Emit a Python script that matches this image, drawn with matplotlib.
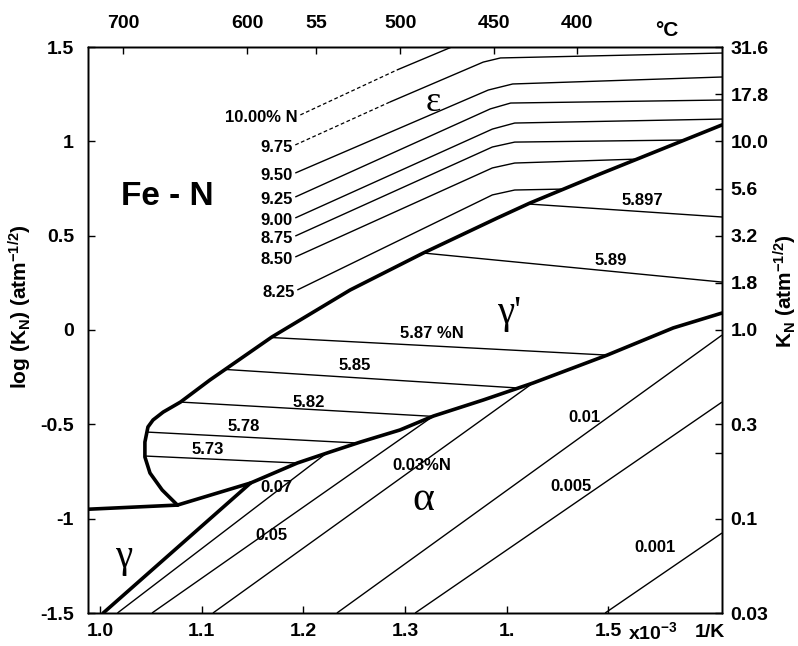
import matplotlib
matplotlib.use('Agg')
import matplotlib.pyplot as plt

plt.rcParams['font.family'] = ['Liberation Sans', 'DejaVu Sans']
plt.rcParams['font.weight'] = 'bold'
plt.rcParams['mathtext.fontset'] = 'custom'
plt.rcParams['mathtext.rm'] = 'Liberation Sans:bold'
plt.rcParams['mathtext.it'] = 'Liberation Sans:bold'
plt.rcParams['mathtext.bf'] = 'Liberation Sans:bold'
plt.rcParams['mathtext.default'] = 'rm'

# ---------------- data (x: 1/T in 1e-3 1/K, y: log KN) ----------------
# gamma' phase: upper boundary incl. the C-shaped gamma/gamma' part
gp_upper_x = [1.076, 1.061, 1.049, 1.044, 1.044, 1.047, 1.052, 1.062, 1.079, 1.108,
              1.169, 1.246, 1.318, 1.391, 1.423, 1.492, 1.612]
gp_upper_y = [-0.928, -0.848, -0.758, -0.673, -0.594, -0.514, -0.477, -0.435, -0.382, -0.265,
              -0.037, 0.212, 0.408, 0.594, 0.673, 0.827, 1.087]
# gamma' lower boundary (gamma/gamma' then alpha/gamma')
gp_lower_x = [1.076, 1.148, 1.194, 1.226, 1.256, 1.295, 1.328, 1.377, 1.426, 1.499, 1.564, 1.612]
gp_lower_y = [-0.928, -0.811, -0.705, -0.647, -0.594, -0.530, -0.456, -0.371, -0.281, -0.133, 0.011, 0.090]
# gamma boundary (left, nearly horizontal)
gamma_x = [0.988, 1.076]
gamma_y = [-0.950, -0.928]
# gamma / alpha boundary
ga_x = [1.003, 1.148]
ga_y = [-1.500, -0.811]

# alpha iso-concentration lines
alpha_labels = ['0.07', '0.05', '0.03%N', '0.01', '0.005', '0.001']
alpha_x0 = [1.017, 1.051, 1.111, 1.233, 1.310, 1.497]
alpha_y0 = [-1.5, -1.5, -1.5, -1.5, -1.5, -1.5]
alpha_x1 = [1.223, 1.328, 1.426, 1.612, 1.612, 1.612]
alpha_y1 = [-0.652, -0.456, -0.281, -0.027, -0.382, -1.076]
alpha_lx = [1.173, 1.169, 1.317, 1.477, 1.463, 1.546]
alpha_ly = [-0.837, -1.087, -0.716, -0.466, -0.832, -1.155]

# gamma' iso-concentration lines
tie_labels = ['5.73', '5.78', '5.82', '5.85', '5.87 %N', '5.89', '5.897']
tie_x0 = [1.044, 1.046, 1.079, 1.123, 1.169, 1.318, 1.421]
tie_y0 = [-0.668, -0.541, -0.382, -0.209, -0.040, 0.408, 0.668]
tie_x1 = [1.194, 1.253, 1.328, 1.410, 1.499, 1.612, 1.612]
tie_y1 = [-0.705, -0.599, -0.458, -0.307, -0.133, 0.254, 0.599]
tie_lx = [1.106, 1.141, 1.205, 1.251, 1.326, 1.502, 1.534]
tie_ly = [-0.631, -0.514, -0.382, -0.186, -0.016, 0.371, 0.689]

# epsilon iso-concentration lines
eps_labels = ['10.00% N', '9.75', '9.50', '9.25', '9.00', '8.75', '8.50', '8.25']
eps_x = [
    [1.197, 1.292, 1.346],
    [1.192, 1.285, 1.377, 1.394, 1.612],
    [1.192, 1.382, 1.406, 1.612],
    [1.192, 1.384, 1.404, 1.612],
    [1.192, 1.386, 1.408, 1.612],
    [1.192, 1.386, 1.408, 1.576],
    [1.192, 1.386, 1.408, 1.529],
    [1.194, 1.386, 1.408, 1.456],
]
eps_y = [
    [1.140, 1.378, 1.500],
    [0.981, 1.208, 1.420, 1.442, 1.468],
    [0.832, 1.272, 1.304, 1.341],
    [0.705, 1.172, 1.203, 1.219],
    [0.594, 1.065, 1.097, 1.118],
    [0.498, 0.970, 0.996, 1.007],
    [0.387, 0.859, 0.885, 0.906],
    [0.212, 0.716, 0.742, 0.747],
]
eps_ndash = [1, 1, 0, 0, 0, 0, 0, 0]

# phase labels
phase_labels = ['\u03b5', "\u03b3'", '\u03b1', '\u03b3']
phase_x = [1.328, 1.402, 1.318, 1.023]
phase_y = [1.208, 0.085, -0.901, -1.208]
phase_size = [26, 28, 30, 28]

# axes ticks
bottom_ticks = [1.0, 1.1, 1.2, 1.3, 1.4, 1.5]
bottom_labels = ['1.0', '1.1', '1.2', '1.3', '1.', '1.5']
left_ticks = [-1.5, -1.0, -0.5, 0.0, 0.5, 1.0, 1.5]
left_labels = ['-1.5', '-1', '-0.5', '0', '0.5', '1', '1.5']
top_ticks = [1.0226, 1.1447, 1.2126, 1.2953, 1.3878, 1.4695]
top_labels = ['700', '600', '55', '500', '450', '400']
right_ticks = [1.5, 1.25, 1.0, 0.75, 0.5, 0.25, 0.0, -0.5, -1.0, -1.5]
right_labels = ['31.6', '17.8', '10.0', '5.6', '3.2', '1.8', '1.0', '0.3', '0.1', '0.03']
right_minor = [-0.65]

# ---------------- figure ----------------
W, H = 798, 646
fig = plt.figure(figsize=(W / 100, H / 100), dpi=100)
ax = fig.add_axes([88 / W, 1 - 613 / H, (722 - 88) / W, (613 - 47) / H])
xlim = (0.988, 1.612)
ylim = (-1.5, 1.5)

thin = dict(color='black', lw=1.0, solid_capstyle='butt')
thick = dict(color='black', lw=2.6, solid_joinstyle='round', solid_capstyle='round')
lab = dict(fontsize=12, fontweight='bold', ha='center', va='center')

# alpha lines
for i in range(len(alpha_labels)):
    ax.plot([alpha_x0[i], alpha_x1[i]], [alpha_y0[i], alpha_y1[i]], **thin)
    ax.text(alpha_lx[i], alpha_ly[i], alpha_labels[i], **lab)

# gamma' tie lines
for i in range(len(tie_labels)):
    ax.plot([tie_x0[i], tie_x1[i]], [tie_y0[i], tie_y1[i]], **thin)
    ax.text(tie_lx[i], tie_ly[i], tie_labels[i], **lab)

# epsilon lines
for i in range(len(eps_labels)):
    xs, ys, nd = eps_x[i], eps_y[i], eps_ndash[i]
    if nd > 0:
        ax.plot(xs[:nd + 1], ys[:nd + 1], color='black', lw=0.9, linestyle=(0, (3, 2)))
    ax.plot(xs[nd:], ys[nd:], **thin)
    ax.annotate(eps_labels[i], (xs[0], ys[0]), xytext=(-2, -1.5), textcoords='offset points',
                ha='right', va='center', fontsize=12, fontweight='bold')

# phase boundaries
ax.plot(gp_upper_x, gp_upper_y, **thick)
ax.plot(gp_lower_x, gp_lower_y, **thick)
ax.plot(gamma_x, gamma_y, **thick)
ax.plot(ga_x, ga_y, **thick)

for i in range(len(phase_labels)):
    ax.text(phase_x[i], phase_y[i], phase_labels[i], fontsize=phase_size[i],
            family=['Liberation Serif', 'DejaVu Serif'], fontweight='normal',
            ha='center', va='center')

ax.text(1.066, 0.705, 'Fe - N', fontsize=24, fontweight='bold', ha='center', va='center')

ax.set_xlim(*xlim)
ax.set_ylim(*ylim)
ax.set_xticks(bottom_ticks)
ax.set_xticklabels(bottom_labels)
ax.set_yticks(left_ticks)
ax.set_yticklabels(left_labels)
ax.tick_params(axis='x', direction='in', length=5, width=1, pad=7, labelsize=14)
ax.tick_params(axis='y', direction='in', length=5, width=1, pad=10, labelsize=14)
for lbl in ax.get_xticklabels() + ax.get_yticklabels():
    lbl.set_fontweight('bold')

axt = ax.twiny()
axt.set_xlim(*xlim)
axt.set_xticks(top_ticks)
axt.set_xticklabels(top_labels)
axt.tick_params(axis='x', direction='in', length=5, width=1, pad=11, labelsize=14)

axr = ax.twinx()
axr.set_ylim(*ylim)
axr.set_yticks(right_ticks)
axr.set_yticklabels(right_labels)
axr.set_yticks(right_minor, minor=True)
axr.tick_params(axis='y', which='both', direction='in', length=5, width=1, pad=6, labelsize=14)
for a in (axt, axr):
    for lbl in a.get_xticklabels() + a.get_yticklabels():
        lbl.set_fontweight('bold')

for a in (ax, axt, axr):
    for s in a.spines.values():
        s.set_linewidth(1.0)

ax.text(0.913, 1.030, '\u00b0C', transform=ax.transAxes, fontsize=15, fontweight='bold',
        ha='center', va='center')
ax.text(0.891, -0.034, r'x10$^{\mathrm{-3}}$', transform=ax.transAxes, fontsize=14,
        fontweight='bold', ha='center', va='center')
ax.text(0.981, -0.034, '1/K', transform=ax.transAxes, fontsize=14, fontweight='bold',
        ha='center', va='center')

fig.text(20 / W, 1 - 307 / H, r'log (K$_{\mathrm{N}}$) (atm$^{\mathrm{-1/2}}$)', rotation=90,
         ha='center', va='center', fontsize=15, fontweight='bold')
fig.text(785 / W, 1 - 291 / H, r'K$_{\mathrm{N}}$ (atm$^{\mathrm{-1/2}}$)', rotation=90,
         ha='center', va='center', fontsize=15, fontweight='bold')

fig.savefig('out.png', dpi=100, facecolor='white')
